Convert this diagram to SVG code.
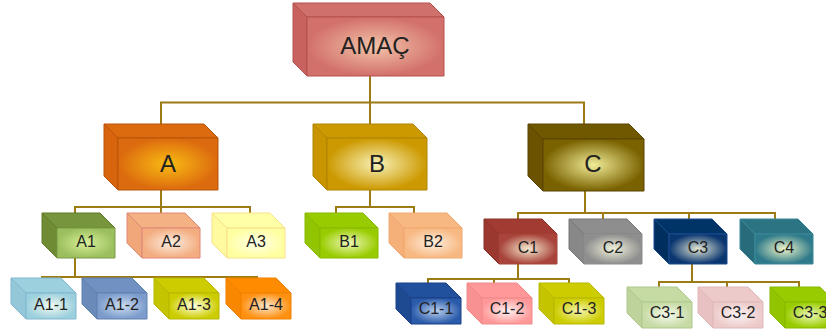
<svg xmlns="http://www.w3.org/2000/svg" width="826" height="333" viewBox="0 0 826 333">
<style>
.bg{fill:#ffffff}
.conn{fill:none;stroke:#9C7A14;stroke-width:2;stroke-linecap:square}
.box polygon,.box rect{stroke-width:1;stroke-linejoin:round}
.t{font-family:"Liberation Sans",Arial,sans-serif;fill:#222222;text-anchor:middle}
.t1{font-size:24px}
.t2{font-size:16px}
</style>
<defs>
<radialGradient id="gAMAC"><stop offset="0" stop-color="#F3C3A8"/><stop offset="1" stop-color="#D2706B"/></radialGradient>
<radialGradient id="gA"><stop offset="0" stop-color="#F9BC14"/><stop offset="1" stop-color="#DC6A0E"/></radialGradient>
<radialGradient id="gB"><stop offset="0" stop-color="#F8F2B8"/><stop offset="1" stop-color="#CC9900"/></radialGradient>
<radialGradient id="gC"><stop offset="0" stop-color="#F0EC98"/><stop offset="1" stop-color="#7A6200"/></radialGradient>
<radialGradient id="gA1"><stop offset="0" stop-color="#D8F098"/><stop offset="1" stop-color="#9BBE5E"/></radialGradient>
<radialGradient id="gA2"><stop offset="0" stop-color="#FDEDE0"/><stop offset="1" stop-color="#F3AD80"/></radialGradient>
<radialGradient id="gA3"><stop offset="0" stop-color="#FFFFE8"/><stop offset="1" stop-color="#FFFFA0"/></radialGradient>
<radialGradient id="gB1"><stop offset="0" stop-color="#EEF8B8"/><stop offset="1" stop-color="#99CC00"/></radialGradient>
<radialGradient id="gB2"><stop offset="0" stop-color="#FDEEDD"/><stop offset="1" stop-color="#F8B882"/></radialGradient>
<radialGradient id="gC1"><stop offset="0" stop-color="#F6EAD0"/><stop offset="1" stop-color="#A8443A"/></radialGradient>
<radialGradient id="gC2"><stop offset="0" stop-color="#F2F2DC"/><stop offset="1" stop-color="#8E8E8E"/></radialGradient>
<radialGradient id="gC3"><stop offset="0" stop-color="#E4E8D4"/><stop offset="1" stop-color="#0A3670"/></radialGradient>
<radialGradient id="gC4"><stop offset="0" stop-color="#EEF4C8"/><stop offset="1" stop-color="#2F7A8A"/></radialGradient>
<radialGradient id="gA11"><stop offset="0" stop-color="#F4FAEE"/><stop offset="1" stop-color="#9DD0DE"/></radialGradient>
<radialGradient id="gA12"><stop offset="0" stop-color="#CCDCF0"/><stop offset="1" stop-color="#7C9CCC"/></radialGradient>
<radialGradient id="gA13"><stop offset="0" stop-color="#FFFFE0"/><stop offset="1" stop-color="#CCCC00"/></radialGradient>
<radialGradient id="gA14"><stop offset="0" stop-color="#FFE6CC"/><stop offset="1" stop-color="#FF9010"/></radialGradient>
<radialGradient id="gC11"><stop offset="0" stop-color="#B8D0EE"/><stop offset="1" stop-color="#2A5AAA"/></radialGradient>
<radialGradient id="gC12"><stop offset="0" stop-color="#FFF2F2"/><stop offset="1" stop-color="#FF9999"/></radialGradient>
<radialGradient id="gC13"><stop offset="0" stop-color="#F4F4B0"/><stop offset="1" stop-color="#CCCC00"/></radialGradient>
<radialGradient id="gC31"><stop offset="0" stop-color="#F6FAEC"/><stop offset="1" stop-color="#C6DAA4"/></radialGradient>
<radialGradient id="gC32"><stop offset="0" stop-color="#FCF4F4"/><stop offset="1" stop-color="#EDCACA"/></radialGradient>
<radialGradient id="gC33"><stop offset="0" stop-color="#EEF8B8"/><stop offset="1" stop-color="#99CC00"/></radialGradient>
</defs>
<rect class="bg" x="0" y="0" width="826" height="333"/>

<g id="connectors" class="conn">
<path d="M370,76 V102.5 M161,102.5 H584 M161,102.5 V124 M370,102.5 V124 M584,102.5 V124"/>
<path d="M161,190 V207 M75,207 H250 M75,207 V213 M161,207 V213 M250,207 V213"/>
<path d="M370,190 V207 M336,207 H414 M336,207 V213 M414,207 V213"/>
<path d="M585,190 V213 M518,213 H775 M518,213 V219 M603,213 V219 M689,213 V219 M775,213 V219"/>
<path d="M75,258 V277 M42,277 H257 M42,277 V278 M109,277 V278 M185,277 V278 M257,277 V278"/>
<path d="M518,264 V279 M428,279 H569 M428,279 V283 M494,279 V283 M569,279 V283"/>
<path d="M692,264 V282 M659,282 H799 M659,282 V287 M727,282 V287 M799,282 V287"/>
</g>

<g id="node-amac" class="box">
<polygon points="293,3 430,3 444,17 307,17" fill="#CF706C" stroke="#B5504C"/>
<polygon points="293,3 307,17 307,76 293,62" fill="#C8625F" stroke="#B5504C"/>
<rect x="307" y="17" width="137" height="59" fill="url(#gAMAC)" stroke="#B5504C"/>
<text class="t t1" x="375" y="54">AMAÇ</text>
</g>

<g id="node-A" class="box">
<polygon points="104,124 204,124 218,138 118,138" fill="#DC6A0E" stroke="#B8540A"/>
<polygon points="104,124 118,138 118,190 104,176" fill="#D8650D" stroke="#B8540A"/>
<rect x="118" y="138" width="100" height="52" fill="url(#gA)" stroke="#B8540A"/>
<text class="t t1" x="168" y="172">A</text>
</g>

<g id="node-B" class="box">
<polygon points="313,124 413,124 427,138 327,138" fill="#CC9900" stroke="#B08400"/>
<polygon points="313,124 327,138 327,190 313,176" fill="#C89400" stroke="#B08400"/>
<rect x="327" y="138" width="100" height="52" fill="url(#gB)" stroke="#B08400"/>
<text class="t t1" x="377" y="172">B</text>
</g>

<g id="node-C" class="box">
<polygon points="528,124 629,124 644,139 543,139" fill="#705800" stroke="#5A4500"/>
<polygon points="528,124 543,139 543,191 528,176" fill="#6A5200" stroke="#5A4500"/>
<rect x="543" y="139" width="101" height="52" fill="url(#gC)" stroke="#5A4500"/>
<text class="t t1" x="593" y="172">C</text>
</g>

<g id="node-A1" class="box">
<polygon points="42,213 100,213 115,228 57,228" fill="#77953C" stroke="#5F7A2A"/>
<polygon points="42,213 57,228 57,258 42,243" fill="#6F8C35" stroke="#5F7A2A"/>
<rect x="57" y="228" width="58" height="30" fill="url(#gA1)" stroke="#7C9A44"/>
<text class="t t2" x="86" y="247">A1</text>
</g>

<g id="node-A2" class="box">
<polygon points="127,213 185,213 200,228 142,228" fill="#F4B183" stroke="#E08878"/>
<polygon points="127,213 142,228 142,258 127,243" fill="#F0A87A" stroke="#E08878"/>
<rect x="142" y="228" width="58" height="30" fill="url(#gA2)" stroke="#E08878"/>
<text class="t t2" x="171" y="247">A2</text>
</g>

<g id="node-A3" class="box">
<polygon points="212,213 270,213 285,228 227,228" fill="#FFFFA8" stroke="#F8E08A"/>
<polygon points="212,213 227,228 227,258 212,243" fill="#FFFAA0" stroke="#F8E08A"/>
<rect x="227" y="228" width="58" height="30" fill="url(#gA3)" stroke="#F8E08A"/>
<text class="t t2" x="256" y="247">A3</text>
</g>

<g id="node-B1" class="box">
<polygon points="305,213 363,213 378,228 320,228" fill="#99CC00" stroke="#88B800"/>
<polygon points="305,213 320,228 320,258 305,243" fill="#92C400" stroke="#88B800"/>
<rect x="320" y="228" width="58" height="30" fill="url(#gB1)" stroke="#88B800"/>
<text class="t t2" x="349" y="247">B1</text>
</g>

<g id="node-B2" class="box">
<polygon points="389,213 447,213 462,228 404,228" fill="#F8B882" stroke="#F0A870"/>
<polygon points="389,213 404,228 404,258 389,243" fill="#F5B07A" stroke="#F0A870"/>
<rect x="404" y="228" width="58" height="30" fill="url(#gB2)" stroke="#F0A870"/>
<text class="t t2" x="433" y="247">B2</text>
</g>

<g id="node-C1" class="box">
<polygon points="484,219 542,219 557,234 499,234" fill="#A23C32" stroke="#8A3028"/>
<polygon points="484,219 499,234 499,264 484,249" fill="#9A3830" stroke="#8A3028"/>
<rect x="499" y="234" width="58" height="30" fill="url(#gC1)" stroke="#A8443A"/>
<text class="t t2" x="528" y="253">C1</text>
</g>

<g id="node-C2" class="box">
<polygon points="569,219 627,219 642,234 584,234" fill="#8E8E8E" stroke="#777777"/>
<polygon points="569,219 584,234 584,264 569,249" fill="#888888" stroke="#777777"/>
<rect x="584" y="234" width="58" height="30" fill="url(#gC2)" stroke="#8E8E8E"/>
<text class="t t2" x="613" y="253">C2</text>
</g>

<g id="node-C3" class="box">
<polygon points="654,219 712,219 727,234 669,234" fill="#003366" stroke="#1B4A90"/>
<polygon points="654,219 669,234 669,264 654,249" fill="#002E5E" stroke="#1B4A90"/>
<rect x="669" y="234" width="58" height="30" fill="url(#gC3)" stroke="#1B4A90"/>
<text class="t t2" x="698" y="253">C3</text>
</g>

<g id="node-C4" class="box">
<polygon points="740,219 798,219 813,234 755,234" fill="#2C7383" stroke="#3A8898"/>
<polygon points="740,219 755,234 755,264 740,249" fill="#286C7C" stroke="#3A8898"/>
<rect x="755" y="234" width="58" height="30" fill="url(#gC4)" stroke="#3A8898"/>
<text class="t t2" x="784" y="253">C4</text>
</g>

<g id="node-A1-1" class="box">
<polygon points="11,278 61,278 76,293 26,293" fill="#9DD0DE" stroke="#80B8D0"/>
<polygon points="11,278 26,293 26,319 11,304" fill="#94C8D8" stroke="#80B8D0"/>
<rect x="26" y="293" width="50" height="26" fill="url(#gA11)" stroke="#80B8D0"/>
<text class="t t2" x="51" y="310">A1-1</text>
</g>

<g id="node-A1-2" class="box">
<polygon points="82,278 132,278 147,293 97,293" fill="#7091C2" stroke="#6080B0"/>
<polygon points="82,278 97,293 97,319 82,304" fill="#6A8ABA" stroke="#6080B0"/>
<rect x="97" y="293" width="50" height="26" fill="url(#gA12)" stroke="#6080B0"/>
<text class="t t2" x="122" y="310">A1-2</text>
</g>

<g id="node-A1-3" class="box">
<polygon points="154,278 204,278 219,293 169,293" fill="#CCCC00" stroke="#B8B800"/>
<polygon points="154,278 169,293 169,319 154,304" fill="#C4C400" stroke="#B8B800"/>
<rect x="169" y="293" width="50" height="26" fill="url(#gA13)" stroke="#B8B800"/>
<text class="t t2" x="194" y="310">A1-3</text>
</g>

<g id="node-A1-4" class="box">
<polygon points="226,278 276,278 291,293 241,293" fill="#FF8C00" stroke="#F08000"/>
<polygon points="226,278 241,293 241,319 226,304" fill="#F88800" stroke="#F08000"/>
<rect x="241" y="293" width="50" height="26" fill="url(#gA14)" stroke="#F08000"/>
<text class="t t2" x="266" y="310">A1-4</text>
</g>

<g id="node-C1-1" class="box">
<polygon points="396,283 446,283 461,298 411,298" fill="#21509C" stroke="#1A4088"/>
<polygon points="396,283 411,298 411,324 396,309" fill="#1E4A92" stroke="#1A4088"/>
<rect x="411" y="298" width="50" height="26" fill="url(#gC11)" stroke="#1A4088"/>
<text class="t t2" x="436" y="314">C1-1</text>
</g>

<g id="node-C1-2" class="box">
<polygon points="467,283 517,283 532,298 482,298" fill="#FF9999" stroke="#F08888"/>
<polygon points="467,283 482,298 482,324 467,309" fill="#F89292" stroke="#F08888"/>
<rect x="482" y="298" width="50" height="26" fill="url(#gC12)" stroke="#F08888"/>
<text class="t t2" x="507" y="314">C1-2</text>
</g>

<g id="node-C1-3" class="box">
<polygon points="539,283 589,283 604,298 554,298" fill="#CCCC00" stroke="#B8B800"/>
<polygon points="539,283 554,298 554,324 539,309" fill="#C4C400" stroke="#B8B800"/>
<rect x="554" y="298" width="50" height="26" fill="url(#gC13)" stroke="#B8B800"/>
<text class="t t2" x="579" y="314">C1-3</text>
</g>

<g id="node-C3-1" class="box">
<polygon points="627,287 677,287 692,302 642,302" fill="#C6DAA4" stroke="#B0C890"/>
<polygon points="627,287 642,302 642,328 627,313" fill="#BED29C" stroke="#B0C890"/>
<rect x="642" y="302" width="50" height="26" fill="url(#gC31)" stroke="#B0C890"/>
<text class="t t2" x="667" y="318">C3-1</text>
</g>

<g id="node-C3-2" class="box">
<polygon points="698,287 748,287 763,302 713,302" fill="#EDCACA" stroke="#E0B8B8"/>
<polygon points="698,287 713,302 713,328 698,313" fill="#E8C2C2" stroke="#E0B8B8"/>
<rect x="713" y="302" width="50" height="26" fill="url(#gC32)" stroke="#E0B8B8"/>
<text class="t t2" x="738" y="318">C3-2</text>
</g>

<g id="node-C3-3" class="box">
<polygon points="770,287 820,287 835,302 785,302" fill="#99CC00" stroke="#88B800"/>
<polygon points="770,287 785,302 785,328 770,313" fill="#92C400" stroke="#88B800"/>
<rect x="785" y="302" width="50" height="26" fill="url(#gC33)" stroke="#88B800"/>
<text class="t t2" x="810" y="318">C3-3</text>
</g>
</svg>
